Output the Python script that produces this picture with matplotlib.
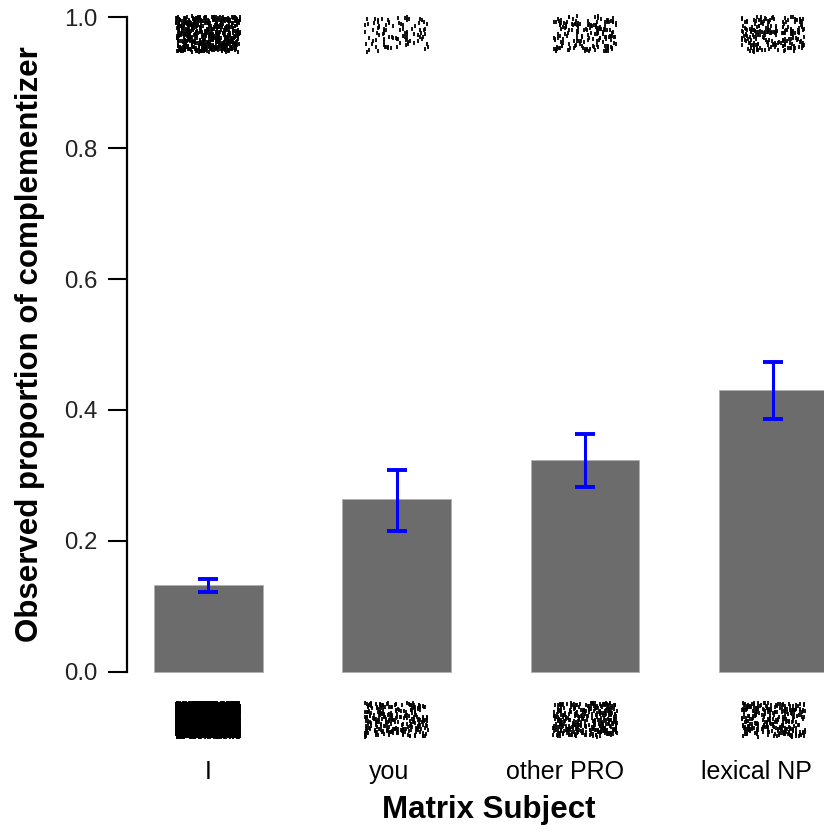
import numpy as np
import matplotlib
matplotlib.use("Agg")
import matplotlib.pyplot as plt

plt.rcParams['font.family'] = ['Liberation Sans', 'DejaVu Sans']

# values
subjects = ["I", "you", "other PRO", "lexical NP"]
prop = [0.133, 0.264, 0.323, 0.430]
ci_low = [0.122, 0.216, 0.283, 0.386]
ci_high = [0.1415, 0.308, 0.363, 0.474]
# estimated numbers of observations with / without complementizer
n_yes = [612, 93, 170, 209]
n_no = [3990, 259, 355, 277]
# label positions as drawn in the original (slightly off the bar centres)
label_pos = [0.0, 0.961, 1.892, 2.91]

fig = plt.figure(figsize=(8.24, 8.36), dpi=100)
ax = fig.add_axes([127/824, 1 - 745/836, 1 - 127/824, 745/836])

x = np.arange(len(subjects))
ax.bar(x, prop, width=0.578, color='#6c6c6c', edgecolor='#b0b0b0', linewidth=0.6, zorder=2)

err = [np.array(prop) - np.array(ci_low), np.array(ci_high) - np.array(prop)]
ax.errorbar(x, prop, yerr=err, fmt='none', ecolor='#0000ff', elinewidth=2.2,
            capsize=7.5, capthick=2.8, zorder=3)

# jittered raw observations (0 plotted below the axis, 1 at the top)
rng = np.random.default_rng(7)
for i in range(len(subjects)):
    xt = i + rng.uniform(-0.17, 0.17, n_yes[i])
    yt = 0.974 + rng.uniform(-0.027, 0.027, n_yes[i])
    ax.scatter(xt, yt, marker='|', s=11, linewidths=1.3, color='black', zorder=4, clip_on=False)
    xb = i + rng.uniform(-0.17, 0.17, n_no[i])
    yb = -0.073 + rng.uniform(-0.026, 0.026, n_no[i])
    ax.scatter(xb, yb, marker='|', s=11, linewidths=1.3, color='black', zorder=4, clip_on=False)

ax.set_xlim(-0.43, 3.268)
ax.set_ylim(-0.1115, 1.026)

for s in ['top', 'right', 'bottom']:
    ax.spines[s].set_visible(False)
ax.spines['left'].set_bounds(0, 1)
ax.spines['left'].set_linewidth(1.6)

ax.set_yticks([0.0, 0.2, 0.4, 0.6, 0.8, 1.0])
ax.set_yticklabels(['0.0', '0.2', '0.4', '0.6', '0.8', '1.0'])
ax.tick_params(axis='y', length=13.5, width=1.5, pad=8, labelsize=17.3, labelcolor='#222222')
ax.set_xticks(label_pos)
ax.set_xticklabels(subjects)
ax.tick_params(axis='x', length=0, pad=11, labelsize=18)

fig.text(489/824, 1 - 810/836, "Matrix Subject", ha='center', va='center',
         fontsize=22.5, fontweight='bold')
fig.text(30/824, 1 - 344/836, "Observed proportion of complementizer", ha='center',
         va='center', rotation=90, fontsize=22.5, fontweight='bold')

fig.savefig("out.png", dpi=100)
